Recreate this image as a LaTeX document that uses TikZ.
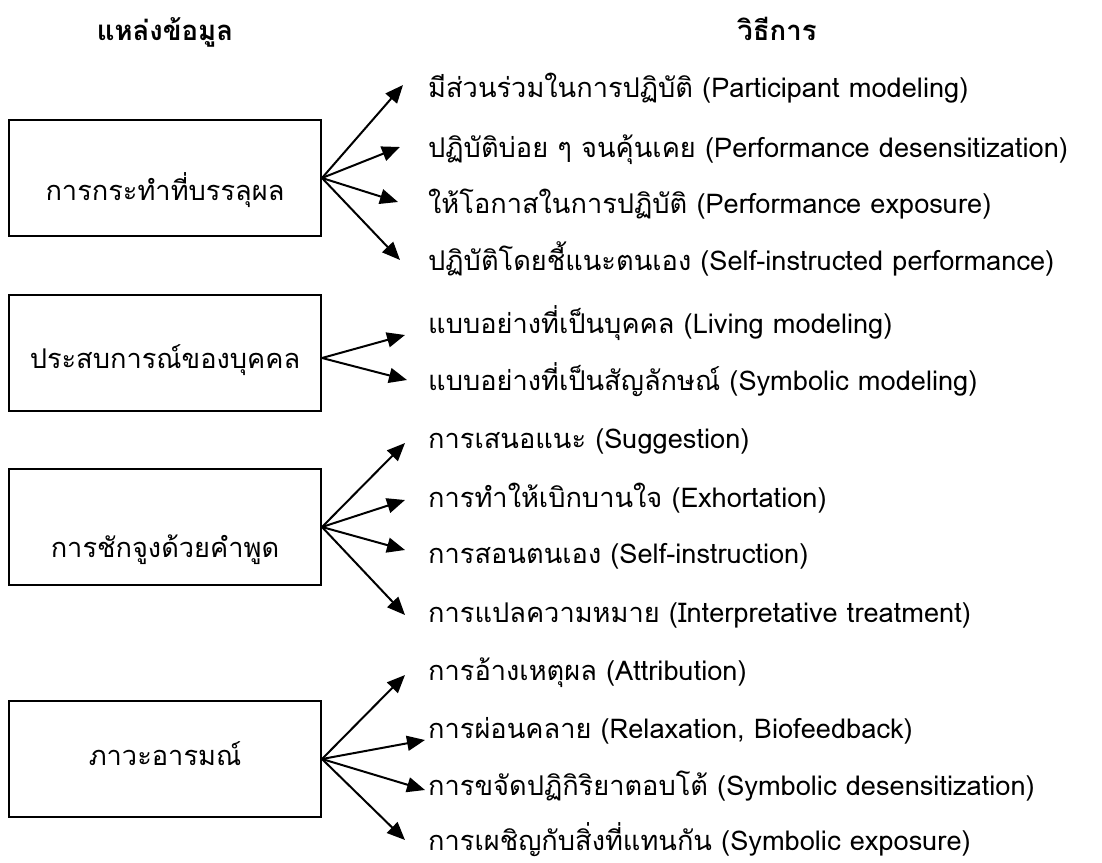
\documentclass[tikz,border=0pt]{standalone}
\usepackage{fontspec}
\newfontfamily\thaifont[Script=Thai]{Loma}
\usetikzlibrary{arrows.meta,calc}
\begin{document}
\begin{tikzpicture}[x=1pt,y=-1pt,
  every node/.style={font=\thaifont\fontsize{27.2}{32}\selectfont},
  srcbox/.style={draw, line width=2pt, minimum width=312pt, minimum height=116pt, inner sep=0pt},
  lab/.style={anchor=base, inner sep=0pt},
  item/.style={anchor=base west, inner sep=0pt},
  head/.style={anchor=base, inner sep=0pt, font=\thaifont\bfseries\fontsize{27.5}{32}\selectfont},
  arr/.style={-{Triangle[length=18pt,width=15pt]}, line width=2pt}]
\useasboundingbox (0,0) rectangle (1102,862);
\node[head] (h1) at (165,40) {แหล่งข้อมูล};
\node[head] (h2) at (777,40) {วิธีการ};
% boxes
\node[srcbox] (b1) at (165,178) {};
\node[srcbox] (b2) at (165,353) {};
\node[srcbox] (b3) at (165,527) {};
\node[srcbox] (b4) at (165,759) {};
\node[lab] (l1) at (165,200) {การกระทำที่บรรลุผล};
\node[lab] (l2) at (165,368) {ประสบการณ์ของบุคคล};
\node[lab] (l3) at (165,557) {การชักจูงด้วยคำพูด};
\node[lab] (l4) at (165,765) {ภาวะอารมณ์};
% items
\node[item] (i1) at (428,97) {มีส่วนร่วมในการปฏิบัติ (Participant modeling)};
\node[item] (i2) at (428,157) {ปฏิบัติบ่อย ๆ จนคุ้นเคย (Performance desensitization)};
\node[item] (i3) at (428,213) {ให้โอกาสในการปฏิบัติ (Performance exposure)};
\node[item] (i4) at (428,270) {ปฏิบัติโดยชี้แนะตนเอง (Self-instructed performance)};
\node[item] (i5) at (428,333) {แบบอย่างที่เป็นบุคคล (Living modeling)};
\node[item] (i6) at (428,390) {แบบอย่างที่เป็นสัญลักษณ์ (Symbolic modeling)};
\node[item] (i7) at (428,448) {การเสนอแนะ (Suggestion)};
\node[item] (i8) at (428,507) {การทำให้เบิกบานใจ (Exhortation)};
\node[item] (i9) at (428,563) {การสอนตนเอง (Self-instruction)};
\node[item] (i10) at (428,622) {การแปลความหมาย (Interpretative treatment)};
\node[item] (i11) at (428,680) {การอ้างเหตุผล (Attribution)};
\node[item] (i12) at (428,738) {การผ่อนคลาย (Relaxation, Biofeedback)};
\node[item] (i13) at (428,795) {การขจัดปฏิกิริยาตอบโต้ (Symbolic desensitization)};
\node[item] (i14) at (428,850) {การเผชิญกับสิ่งที่แทนกัน (Symbolic exposure)};
% arrow tips
\coordinate (t1) at (403,85);
\coordinate (t2) at (400,147);
\coordinate (t3) at (398,202);
\coordinate (t4) at (400,260);
\coordinate (t5) at (405,335);
\coordinate (t6) at (407,380);
\coordinate (t7) at (405,443);
\coordinate (t8) at (405,500);
\coordinate (t9) at (405,550);
\coordinate (t10) at (405,615);
\coordinate (t11) at (405,675);
\coordinate (t12) at (425,740);
\coordinate (t13) at (425,790);
\coordinate (t14) at (405,840);
\foreach \t in {1,2,3,4} \draw[arr] (b1.east) -- (t\t);
\foreach \t in {5,6} \draw[arr] ([yshift=-5pt]b2.east) -- (t\t);
\foreach \t in {7,8,9,10} \draw[arr] (b3.east) -- (t\t);
\foreach \t in {11,12,13,14} \draw[arr] (b4.east) -- (t\t);
\end{tikzpicture}
\end{document}
